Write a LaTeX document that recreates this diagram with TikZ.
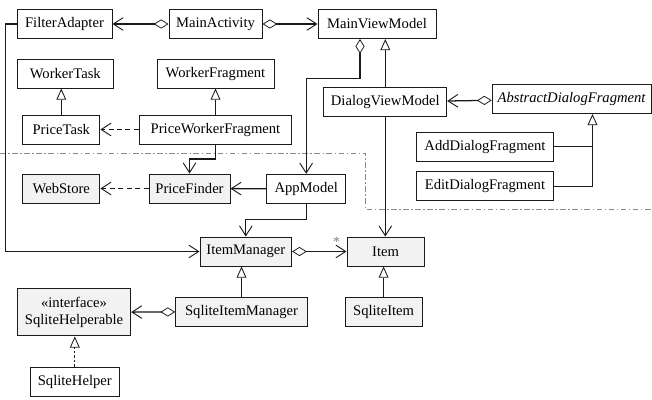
\documentclass[tikz,border=0pt]{standalone}
\usepackage{fontspec}
\setmainfont{Liberation Serif}
\usetikzlibrary{arrows.meta}
\definecolor{ink}{HTML}{1A1A1A}
\definecolor{shade}{HTML}{F2F2F2}
\definecolor{muted}{HTML}{8A8A8A}

\begin{document}
\begin{tikzpicture}[
    font=\fontsize{10.4}{12.5}\selectfont,
    cls/.style={draw=ink, line width=0.7pt, fill=white, minimum height=0.725cm, inner sep=0pt},
    stored/.style={cls, fill=shade},
    assoc/.style={draw=ink, line width=0.9pt, -{Straight Barb[length=7pt,width=9pt,line width=0.65pt]}},
    agg/.style={assoc, {Diamond[open,length=10.5pt,width=6.5pt,line width=0.55pt]}-{Straight Barb[length=7pt,width=9pt,line width=0.65pt]}},
    dep/.style={assoc, dash pattern=on 3.5pt off 2.5pt},
    gen/.style={draw=ink, line width=0.6pt, -{Triangle[open,length=8pt,width=7pt]}},
    real/.style={gen, dash pattern=on 1.8pt off 1.4pt},
    zone/.style={draw=muted, line width=0.6pt, dash pattern=on 4pt off 1.8pt on 1pt off 1.8pt},
    mult/.style={font=\fontsize{10}{11}\selectfont, text=gray, inner sep=0pt}
]
\useasboundingbox (0,0) rectangle (16.3,-9.975);

% UI layer.
\node[cls, minimum width=2.375cm] (filter) at (1.6125,-0.6) {FilterAdapter};
\node[cls, minimum width=2.325cm] (act) at (5.3875,-0.6) {MainActivity};
\node[cls, minimum width=2.95cm] (mvm) at (9.425,-0.6) {MainViewModel};
\node[cls, minimum width=2.40cm] (wtask) at (1.6325,-1.8375) {WorkerTask};
\node[cls, minimum width=2.925cm] (wfrag) at (5.3875,-1.8375) {WorkerFragment};
\node[cls, minimum width=1.93cm] (ptask) at (1.5325,-3.2375) {PriceTask};
\node[cls, minimum width=3.81cm] (pwfrag) at (5.3875,-3.2375) {PriceWorkerFragment};
\node[cls, minimum width=3.07cm] (dvm) at (9.6325,-2.55) {DialogViewModel};
\node[cls, minimum width=3.97cm] (adf) at (14.29,-2.475) {\itshape AbstractDialogFragment};
\node[cls, minimum width=3.415cm] (add) at (12.125,-3.6625) {AddDialogFragment};
\node[cls, minimum width=3.415cm] (edit) at (12.125,-4.65) {EditDialogFragment};

% Model layer.
\node[stored, minimum width=1.93cm] (store) at (1.5325,-4.7125) {WebStore};
\node[stored, minimum width=2.025cm] (finder) at (4.7375,-4.7125) {PriceFinder};
\node[cls, minimum width=1.975cm] (appm) at (7.655,-4.72) {AppModel};
\node[stored, minimum width=2.29cm] (imgr) at (6.145,-6.2875) {ItemManager};
\node[stored, minimum width=1.93cm] (item) at (9.64,-6.2875) {Item};
\node[stored, minimum width=3.29cm] (simgr) at (6.0375,-7.79) {SqliteItemManager};
\node[stored, minimum width=1.93cm] (sitem) at (9.59,-7.79) {SqliteItem};
\node[stored, minimum width=2.835cm, minimum height=1.175cm, align=center] (shable) at (1.85,-7.81)
    {«interface»\\SqliteHelperable};
\node[cls, minimum width=2.21cm] (shelper) at (1.87,-9.54) {SqliteHelper};

% Layer boundary.
\draw[zone] (0,-3.825) -- (9.1425,-3.825) -- (9.1425,-5.2325) -- (16.3,-5.2325);

% Associations.
\draw[agg] (act) -- (filter);
\draw[agg] (act) -- (mvm);
\draw[agg] (adf) -- (dvm);
\draw[agg] ([xshift=-0.425cm]mvm.south) -- ++(0,-0.995) -| (appm.north);
\draw[assoc] (filter.west) -- ++(-0.275,0) |- (imgr.west);
\draw[assoc] (dvm.south) -- (dvm.south |- item.north);
\draw[assoc] (pwfrag.south) -- ++(0,-0.36) -| (finder.north);
\draw[assoc] (appm) -- (finder);
\draw[assoc] (appm.south) -- ++(0,-0.395) -| (imgr.north);
\draw[agg] (imgr) -- (item) node[mult, pos=0.82, above=3pt] {*};
\draw[agg] (simgr) -- (shable);
\draw[dep] (pwfrag) -- (ptask);
\draw[dep] (finder) -- (store);

% Inheritance.
\draw[gen] (ptask.north) -- (ptask.north |- wtask.south);
\draw[gen] (pwfrag.north) -- (pwfrag.north |- wfrag.south);
\draw[gen] (dvm.north) -- (dvm.north |- mvm.south);
\coordinate (dlgjoin) at (14.8125,-3.6625);
\coordinate (dlgtip) at ([xshift=0.5225cm]adf.south);
\draw[gen] (add.east) -- (dlgjoin) -- (dlgtip);
\draw[draw=ink, line width=0.6pt] (edit.east) -| (dlgjoin);
\draw[gen] (simgr.north) -- (simgr.north |- imgr.south);
\draw[gen] (sitem.north) -- (sitem.north |- item.south);
\draw[real] (shelper.north) -- (shelper.north |- shable.south);
\end{tikzpicture}
\end{document}
